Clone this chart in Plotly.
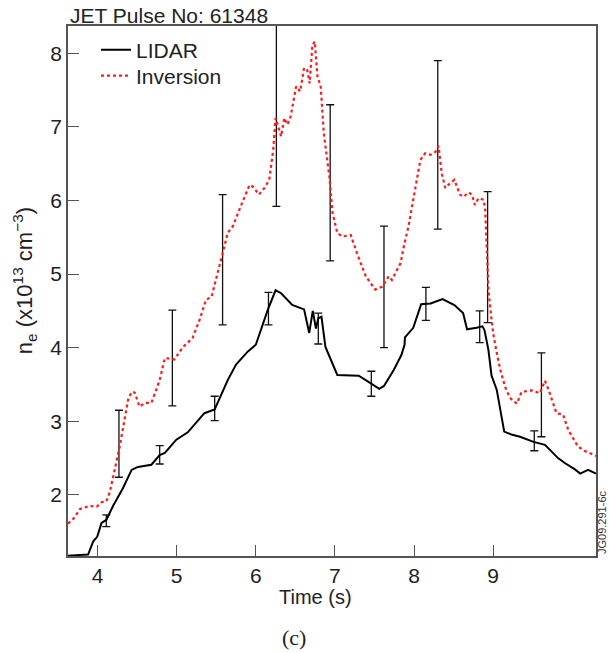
import plotly.graph_objects as go

# LIDAR density (x10^13 cm^-3)
lidar_t = [3.626, 3.88, 3.945, 3.995, 4.05, 4.11, 4.2, 4.27, 4.32, 4.43, 4.51, 4.68, 4.785, 4.85,
           4.995, 5.14, 5.225, 5.35, 5.48, 5.645, 5.75, 5.9, 6.0, 6.15, 6.25, 6.32, 6.46, 6.61,
           6.675, 6.72, 6.76, 6.79, 6.83, 6.88, 7.03, 7.30, 7.39, 7.56, 7.62, 7.745, 7.84, 7.88,
           7.885, 7.99, 8.09, 8.21, 8.36, 8.51, 8.62, 8.67, 8.79, 8.865, 8.89, 8.94, 8.98, 9.045,
           9.14, 9.23, 9.34, 9.51, 9.655, 9.82, 9.91, 10.03, 10.10, 10.2, 10.30]
lidar_ne = [1.175, 1.19, 1.37, 1.43, 1.62, 1.66, 1.86, 2.0, 2.09, 2.34, 2.38, 2.41, 2.54, 2.57,
            2.75, 2.85, 2.95, 3.11, 3.16, 3.56, 3.77, 3.95, 4.04, 4.51, 4.78, 4.74, 4.58, 4.52,
            4.20, 4.50, 4.26, 4.40, 4.42, 4.01, 3.63, 3.62, 3.56, 3.44, 3.48, 3.70, 3.90, 4.04,
            4.14, 4.27, 4.59, 4.60, 4.66, 4.58, 4.47, 4.25, 4.27, 4.29, 4.24, 3.97, 3.62, 3.43,
            2.86, 2.82, 2.79, 2.72, 2.68, 2.50, 2.43, 2.35, 2.29, 2.34, 2.29]

# Inversion density
inv_t = [3.626, 3.69, 3.78, 3.90, 3.99, 4.05, 4.11, 4.155, 4.22, 4.28, 4.34, 4.385, 4.43, 4.47,
         4.53, 4.60, 4.68, 4.785, 4.85, 4.97, 5.08, 5.20, 5.29, 5.37, 5.44, 5.52, 5.58, 5.645,
         5.71, 5.79, 5.92, 5.96, 6.04, 6.11, 6.17, 6.22, 6.25, 6.32, 6.36, 6.40, 6.44, 6.51,
         6.56, 6.61, 6.65, 6.68, 6.715, 6.745, 6.78, 6.82, 6.86, 6.93, 6.97, 7.03, 7.09, 7.20,
         7.28, 7.39, 7.51, 7.60, 7.68, 7.72, 7.79, 7.83, 7.87, 7.93, 7.975, 8.02, 8.08, 8.14,
         8.21, 8.27, 8.31, 8.35, 8.395, 8.46, 8.51, 8.58, 8.625, 8.69, 8.73, 8.77, 8.815, 8.88,
         8.90, 8.92, 8.94, 8.975, 9.00, 9.045, 9.09, 9.15, 9.21, 9.30, 9.36, 9.49, 9.59, 9.655,
         9.70, 9.80, 9.885, 9.95, 10.07, 10.15, 10.30]
inv_ne = [1.61, 1.67, 1.81, 1.85, 1.84, 1.90, 1.91, 2.04, 2.36, 2.66, 3.02, 3.29, 3.40, 3.39,
          3.20, 3.25, 3.25, 3.56, 3.86, 3.84, 4.01, 4.13, 4.38, 4.65, 4.69, 5.01, 5.28, 5.56,
          5.65, 5.87, 6.21, 6.19, 6.08, 6.17, 6.28, 6.69, 7.12, 6.87, 7.12, 7.03, 7.14, 7.55,
          7.48, 7.80, 7.77, 7.59, 8.11, 8.16, 7.68, 7.55, 6.91, 6.32, 5.83, 5.56, 5.51, 5.53,
          5.28, 4.97, 4.79, 4.83, 4.97, 4.92, 5.06, 5.15, 5.37, 5.65, 5.92, 6.19, 6.55, 6.64,
          6.62, 6.66, 6.74, 6.37, 6.17, 6.24, 6.28, 6.08, 6.05, 6.11, 6.08, 5.94, 6.03, 6.01,
          5.87, 5.33, 4.79, 4.42, 4.20, 3.93, 3.70, 3.47, 3.32, 3.24, 3.40, 3.42, 3.38, 3.55,
          3.43, 3.11, 3.09, 2.88, 2.66, 2.60, 2.53]

# Error bars (low / high bounds)
lidar_err_t = [4.11, 4.785, 5.48, 6.16, 6.79, 7.46, 8.15, 8.83, 9.52]
lidar_err_lo = [1.57, 2.42, 3.01, 4.31, 4.05, 3.34, 4.37, 4.07, 2.60]
lidar_err_hi = [1.73, 2.67, 3.34, 4.75, 4.47, 3.68, 4.82, 4.50, 2.87]

inv_err_t = [4.27, 4.945, 5.58, 6.26, 6.94, 7.62, 8.30, 8.93, 9.61]
inv_err_lo = [2.24, 3.21, 4.31, 5.92, 5.18, 4.00, 5.61, 4.34, 2.79]
inv_err_hi = [3.15, 4.51, 6.08, 8.60, 7.30, 5.65, 7.90, 6.12, 3.93]

x_ticks = [4, 5, 6, 7, 8, 9]
y_ticks = [2, 3, 4, 5, 6, 7, 8]

FONT = "Liberation Sans, Arial, sans-serif"
TXT = "#222222"
AX = "#555555"

fig = go.Figure()


def err_trace(t, lo, hi):
    mid = [(a + b) / 2 for a, b in zip(lo, hi)]
    return go.Scatter(
        x=t, y=mid, mode="markers", showlegend=False, hoverinfo="skip",
        marker=dict(size=1, color="rgba(0,0,0,0)"),
        error_y=dict(type="data", symmetric=False,
                     array=[b - m for b, m in zip(hi, mid)],
                     arrayminus=[m - a for a, m in zip(lo, mid)],
                     color="#111111", thickness=1.3, width=4),
    )


fig.add_trace(err_trace(inv_err_t, inv_err_lo, inv_err_hi))
fig.add_trace(err_trace(lidar_err_t, lidar_err_lo, lidar_err_hi))

fig.add_trace(go.Scatter(x=inv_t, y=inv_ne, mode="lines", name="Inversion", legend="legend2",
                         line=dict(color="#ff1a1a", width=2.2, dash="dot")))
fig.add_trace(go.Scatter(x=lidar_t, y=lidar_ne, mode="lines", name="LIDAR", legend="legend",
                         line=dict(color="#000000", width=2)))

leg_common = dict(x=0.053, xanchor="left", yanchor="middle", bgcolor="rgba(0,0,0,0)",
                  font=dict(family=FONT, size=21, color=TXT))

fig.update_layout(
    width=609, height=653,
    margin=dict(l=68, r=11, t=26, b=97),
    plot_bgcolor="white", paper_bgcolor="white",
    font=dict(family=FONT, size=21, color=TXT),
    showlegend=True,
    legend=dict(y=1 - (50 - 26) / 530, **leg_common),
    legend2=dict(y=1 - (76 - 26) / 530, **leg_common),
    xaxis=dict(range=[3.626, 10.30], tickvals=x_ticks, ticks="inside", ticklen=11,
               tickcolor=AX, tickwidth=1.2, showline=True, linecolor=AX, linewidth=1.5,
               mirror=True, showgrid=False, zeroline=False,
               tickfont=dict(family=FONT, size=21, color=TXT)),
    yaxis=dict(range=[1.17, 8.37], tickvals=y_ticks, ticks="inside", ticklen=11,
               tickcolor=AX, tickwidth=1.2, showline=True, linecolor=AX, linewidth=1.5,
               mirror=True, showgrid=False, zeroline=False,
               tickfont=dict(family=FONT, size=21, color=TXT)),
)

fig.add_annotation(text="JET Pulse No: 61348", xref="paper", yref="paper",
                   x=0, y=1, xanchor="left", yanchor="bottom", yshift=-3,
                   showarrow=False, font=dict(family=FONT, size=21, color=TXT))
fig.add_annotation(text="n<sub>e</sub> (x10<sup>13</sup> cm<sup>−3</sup>)", xref="paper", yref="paper",
                   x=(24 - 68) / 530, y=1 - (281 - 26) / 530, xanchor="center", yanchor="middle",
                   textangle=-90, showarrow=False, font=dict(family=FONT, size=22, color=TXT))
fig.add_annotation(text="Time (s)", xref="paper", yref="paper",
                   x=(316 - 68) / 530, y=-(597 - 556) / 530, xanchor="center", yanchor="middle",
                   showarrow=False, font=dict(family=FONT, size=20, color=TXT))
fig.add_annotation(text="(c)", xref="paper", yref="paper",
                   x=(295 - 68) / 530, y=-(637 - 556) / 530, xanchor="center", yanchor="middle",
                   showarrow=False, font=dict(family="Liberation Serif, Times New Roman, serif", size=22, color=TXT))
fig.add_annotation(text="JG09.291-6c", xref="paper", yref="paper",
                   x=(604 - 68) / 530, y=(556 - 522) / 530, xanchor="center", yanchor="middle",
                   textangle=-90, showarrow=False, font=dict(family=FONT, size=11, color="#333333"))

fig.write_html("out.html", config={"displayModeBar": False},
               post_script="document.body.style.margin='0';document.body.style.overflow='hidden';")
